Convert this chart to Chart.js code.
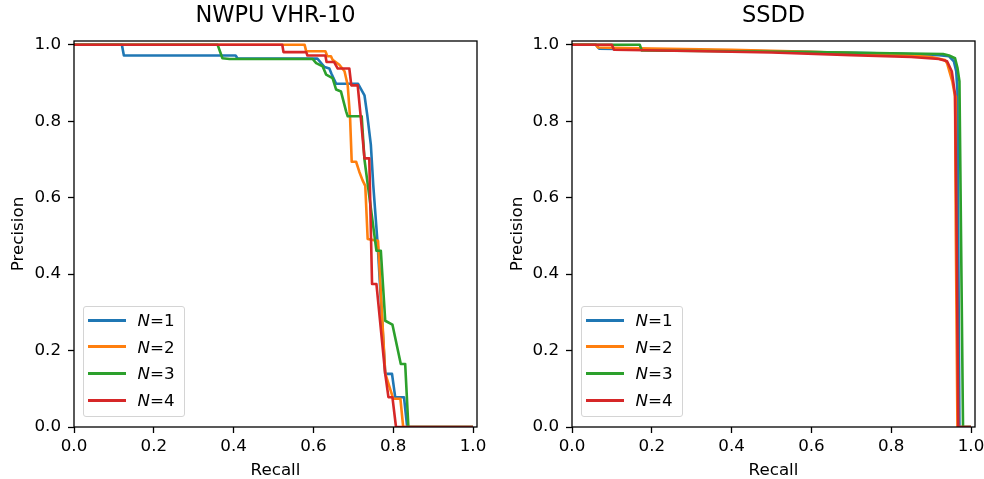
<!DOCTYPE html>
<html>
<head>
<meta charset="utf-8">
<title>PR curves</title>
<script src="https://cdn.jsdelivr.net/npm/chart.js@4.4.0/dist/chart.umd.min.js"></script>
<style>
  body { margin: 0; background: #fff; overflow: hidden; }
  #wrap { position: relative; width: 984px; height: 479px; overflow: hidden; }
  .panel { position: absolute; top: 0; height: 479px; }
  .legend {
    position: absolute;
    box-sizing: border-box;
    width: 102px;
    height: 111px;
    border: 1px solid #d4d4d4;
    border-radius: 3px;
    background: rgba(255, 255, 255, 0.8);
    padding: 0 0 0 4px;
    font-family: "DejaVu Sans", sans-serif;
    font-size: 16.7px;
    color: #000;
  }
  .legend .row { display: flex; align-items: center; height: 26.6px; }
  .legend .swatch { width: 38px; height: 3px; margin-right: 12px; }
</style>
</head>
<body>
<div id="wrap">
  <div class="panel" style="left:0; width:492px;">
    <canvas id="nwpuChart" width="492" height="479"></canvas>
    <div class="legend" id="nwpuLegend"></div>
  </div>
  <div class="panel" style="left:492px; width:500px;">
    <canvas id="ssddChart" width="500" height="479"></canvas>
    <div class="legend" id="ssddLegend"></div>
  </div>
</div>
<script>
// tên chuỗi và màu (matplotlib mặc định)
const seriesNames = ["N=1", "N=2", "N=3", "N=4"];
const seriesColors = ["#1f77b4", "#ff7f0e", "#2ca02c", "#d62728"];
const xTicks = [0, 0.2, 0.4, 0.6, 0.8, 1.0];
const yTicks = [0, 0.2, 0.4, 0.6, 0.8, 1.0];

// NWPU VHR-10
const nwpuRecall1 = [0, 0.12, 0.125, 0.405, 0.41, 0.61, 0.628, 0.64, 0.645, 0.657, 0.712, 0.728, 0.735, 0.744, 0.75, 0.761, 0.78, 0.797, 0.805, 0.827, 0.835, 1.0];
const nwpuPrecision1 = [1, 1, 0.972, 0.972, 0.964, 0.964, 0.942, 0.938, 0.925, 0.898, 0.898, 0.868, 0.816, 0.738, 0.633, 0.478, 0.139, 0.139, 0.078, 0.078, 0, 0];

const nwpuRecall2 = [0, 0.578, 0.582, 0.63, 0.635, 0.644, 0.648, 0.665, 0.678, 0.686, 0.692, 0.696, 0.707, 0.715, 0.723, 0.73, 0.736, 0.762, 0.78, 0.8, 0.818, 0.825, 1.0];
const nwpuPrecision2 = [1, 1, 0.983, 0.983, 0.97, 0.97, 0.961, 0.948, 0.931, 0.894, 0.807, 0.694, 0.694, 0.668, 0.646, 0.631, 0.492, 0.487, 0.14, 0.074, 0.074, 0, 0];

const nwpuRecall3 = [0, 0.36, 0.372, 0.39, 0.598, 0.607, 0.623, 0.632, 0.648, 0.657, 0.669, 0.682, 0.686, 0.721, 0.728, 0.758, 0.769, 0.78, 0.798, 0.819, 0.83, 0.838, 1.0];
const nwpuPrecision3 = [1, 1, 0.965, 0.963, 0.963, 0.952, 0.944, 0.922, 0.913, 0.883, 0.878, 0.826, 0.813, 0.813, 0.7, 0.461, 0.461, 0.278, 0.268, 0.165, 0.165, 0, 0];

const nwpuRecall4 = [0, 0.522, 0.525, 0.582, 0.585, 0.63, 0.633, 0.652, 0.661, 0.69, 0.695, 0.711, 0.719, 0.728, 0.74, 0.747, 0.758, 0.78, 0.788, 0.798, 0.807, 1.0];
const nwpuPrecision4 = [1, 1, 0.981, 0.981, 0.972, 0.972, 0.955, 0.955, 0.938, 0.938, 0.894, 0.894, 0.807, 0.703, 0.703, 0.374, 0.374, 0.139, 0.078, 0.078, 0, 0];

// SSDD
const ssddRecall1 = [0, 0.06, 0.068, 0.2, 0.4, 0.6, 0.8, 0.92, 0.945, 0.957, 0.963, 0.966, 0.968, 0.971, 1.0];
const ssddPrecision1 = [1, 1, 0.99, 0.988, 0.985, 0.981, 0.977, 0.973, 0.97, 0.957, 0.93, 0.88, 0.5, 0, 0];

const ssddRecall2 = [0, 0.06, 0.065, 0.2, 0.4, 0.6, 0.8, 0.9, 0.935, 0.94, 0.953, 0.96, 0.962, 0.966, 1.0];
const ssddPrecision2 = [1, 1, 0.993, 0.99, 0.987, 0.982, 0.975, 0.968, 0.96, 0.952, 0.905, 0.865, 0.5, 0, 0];

const ssddRecall3 = [0, 0.17, 0.175, 0.4, 0.6, 0.8, 0.93, 0.945, 0.96, 0.966, 0.971, 0.975, 0.98, 1.0];
const ssddPrecision3 = [1, 1, 0.985, 0.983, 0.981, 0.978, 0.976, 0.972, 0.965, 0.94, 0.905, 0.5, 0, 0];

const ssddRecall4 = [0, 0.1, 0.105, 0.3, 0.5, 0.7, 0.85, 0.92, 0.94, 0.952, 0.96, 0.964, 0.968, 1.0];
const ssddPrecision4 = [1, 1, 0.987, 0.984, 0.98, 0.973, 0.968, 0.963, 0.957, 0.93, 0.87, 0.5, 0, 0];

const FONT = "'DejaVu Sans', sans-serif";

function toPoints(recall, precision) {
    return recall.map((r, i) => ({ x: r, y: precision[i] }));
}

// khung hộp 4 cạnh như matplotlib
const frameBox = {
    id: 'frameBox',
    afterDatasetsDraw(chart) {
        const { ctx, chartArea: a } = chart;
        ctx.save();
        ctx.strokeStyle = '#000';
        ctx.lineWidth = 1.3;
        ctx.strokeRect(a.left, a.top, a.right - a.left, a.bottom - a.top);
        ctx.restore();
    }
};

function buildLegend(chart, legendId) {
    const box = document.getElementById(legendId);
    box.innerHTML = '';
    seriesNames.forEach((name, i) => {
        const [v, num] = name.split('=');
        const row = document.createElement('div');
        row.className = 'row';
        row.innerHTML = `<span class="swatch" style="background:${seriesColors[i]}"></span>` +
            `<span><i>${v}</i>=${num}</span>`;
        box.appendChild(row);
    });
    const a = chart.chartArea;
    box.style.left = (a.left + 8.5) + 'px';
    box.style.top = (a.bottom - 10 - box.offsetHeight) + 'px';
}

function renderChart(canvasId, legendId, title, recalls, precisions, yWidth, padRight, yTitlePad) {
    const ctx = document.getElementById(canvasId).getContext('2d');
    const chart = new Chart(ctx, {
        type: 'line',
        data: {
            datasets: seriesNames.map((name, i) => ({
                label: name,
                data: toPoints(recalls[i], precisions[i]),
                borderColor: seriesColors[i],
                backgroundColor: seriesColors[i],
                borderWidth: 2.6,
                borderJoinStyle: 'round',
                pointRadius: 0,
                tension: 0,
                fill: false,
                order: seriesNames.length - i
            }))
        },
        options: {
            responsive: false,
            animation: false,
            events: [],
            layout: { padding: { left: 0, right: padRight, top: 0, bottom: 0 } },
            plugins: {
                legend: { display: false },
                tooltip: { enabled: false },
                title: {
                    display: true,
                    fullSize: false,
                    text: title,
                    color: '#000',
                    font: { family: FONT, size: 22.5, weight: 'normal', lineHeight: 1.2 },
                    padding: { top: 2.5, bottom: 11.5 }
                }
            },
            scales: {
                x: {
                    type: 'linear',
                    min: 0,
                    max: 1.01,
                    afterBuildTicks: s => { s.ticks = xTicks.map(v => ({ value: v })); },
                    afterFit: s => { s.height = 52; },
                    border: { display: false },
                    grid: { display: true, drawOnChartArea: false, drawTicks: true, tickLength: 6, tickColor: '#000', tickWidth: 1.3 },
                    ticks: { color: '#000', padding: 4, maxRotation: 0, font: { family: FONT, size: 16.7 }, callback: v => v.toFixed(1) },
                    title: { display: true, text: 'Recall', color: '#000', font: { family: FONT, size: 16.7, lineHeight: 1 }, padding: { top: 0, bottom: 0 } }
                },
                y: {
                    type: 'linear',
                    min: 0,
                    max: 1.01,
                    afterBuildTicks: s => { s.ticks = yTicks.map(v => ({ value: v })); },
                    afterFit: s => { s.width = yWidth; },
                    border: { display: false },
                    grid: { display: true, drawOnChartArea: false, drawTicks: true, tickLength: 6, tickColor: '#000', tickWidth: 1.3 },
                    ticks: { color: '#000', padding: 7, font: { family: FONT, size: 16.7 }, callback: v => v.toFixed(1) },
                    title: { display: true, text: 'Precision', color: '#000', font: { family: FONT, size: 16.7, lineHeight: 1 }, padding: { top: yTitlePad, bottom: 0 } }
                }
            }
        },
        plugins: [frameBox]
    });
    buildLegend(chart, legendId);
    return chart;
}

document.addEventListener('DOMContentLoaded', () => {
    renderChart('nwpuChart', 'nwpuLegend', 'NWPU VHR-10',
        [nwpuRecall1, nwpuRecall2, nwpuRecall3, nwpuRecall4],
        [nwpuPrecision1, nwpuPrecision2, nwpuPrecision3, nwpuPrecision4],
        74, 15, 10.5);
    renderChart('ssddChart', 'ssddLegend', 'SSDD',
        [ssddRecall1, ssddRecall2, ssddRecall3, ssddRecall4],
        [ssddPrecision1, ssddPrecision2, ssddPrecision3, ssddPrecision4],
        80, 17, 17);
});
</script>
</body>
</html>
